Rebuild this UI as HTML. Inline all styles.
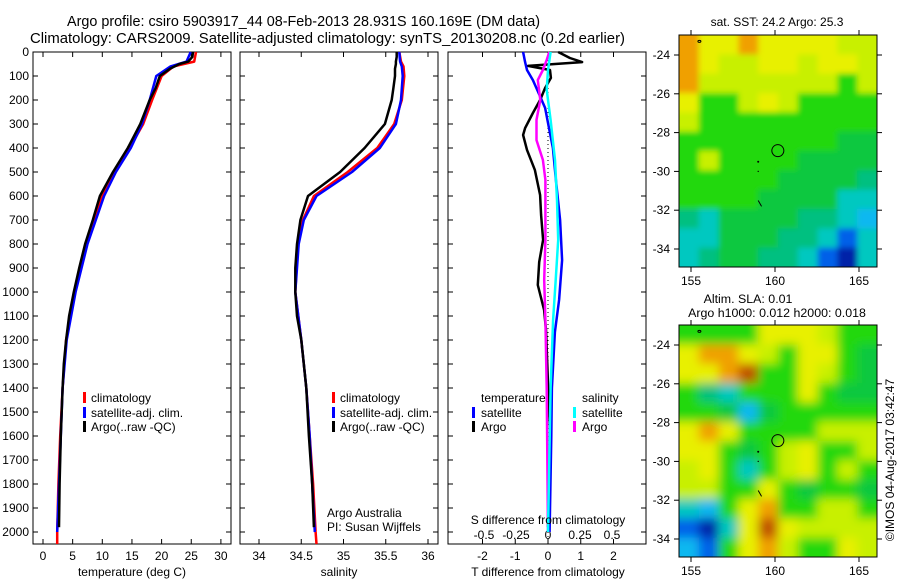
<!DOCTYPE html>
<html><head><meta charset="utf-8">
<style>
body{margin:0;background:#fff;}
svg{display:block;font-family:"Liberation Sans",sans-serif;}
text{font-size:12px;fill:#000;}
</style></head>
<body>
<svg id="root" width="900" height="580" viewBox="0 0 900 580" xmlns="http://www.w3.org/2000/svg">
<defs>
<filter id="blurA" x="-20%" y="-20%" width="140%" height="140%"><feGaussianBlur stdDeviation="5"/></filter>
<filter id="blurB" x="-20%" y="-20%" width="140%" height="140%"><feGaussianBlur stdDeviation="3"/></filter>
<clipPath id="clipMap1"><rect x="679" y="35" width="198" height="232"/></clipPath>
<clipPath id="clipMap2"><rect x="679" y="325" width="198" height="232"/></clipPath>
</defs>
<text x="67" y="26" textLength="473" lengthAdjust="spacingAndGlyphs" style="font-size:14.5px">Argo profile: csiro 5903917_44 08-Feb-2013 28.931S 160.169E (DM data)</text>
<text x="30" y="43" textLength="595" lengthAdjust="spacingAndGlyphs" style="font-size:14.5px">Climatology: CARS2009. Satellite-adjusted climatology: synTS_20130208.nc (0.2d earlier)</text>
<g id="g"></g>
</svg>
<script>
// ---------- data ----------
const depthTicks=[0,100,200,300,400,500,600,700,800,900,1000,1100,1200,1300,1400,1500,1600,1700,1800,1900,2000];
const tTicks=[0,5,10,15,20,25,30];
const sTicks=[34,34.5,35,35.5,36];
const sTickLabels=["34","34.5","35","35.5","36"];
const dTTicks=[-2,-1,0,1,2];
const dSTicks=[-0.5,-0.25,0,0.25,0.5];
const dSTickLabels=["-0.5","-0.25","0","0.25","0.5"];

const climDepth=[0,40,60,100,200,300,400,500,600,700,800,1000,1200,1400,1600,1800,2000,2050];
const climT=[25.8,25.5,22,20,18.4,16.9,14.6,12.2,10,8.6,7.2,5.3,3.9,3.3,2.9,2.6,2.4,2.4];
const climS=[35.66,35.68,35.71,35.72,35.69,35.6,35.4,35.05,34.65,34.52,34.46,34.43,34.5,34.56,34.6,34.64,34.67,34.68];
const satDepth=[0,40,60,100,200,300,400,500,600,700,800,1000,1200,1400,1600,1800,2000];
const satT=[24.9,24.2,21.5,19.1,18,16.7,14.8,12.3,10.3,8.9,7.5,5.5,4.0,3.3,3.0,2.7,2.4];
const satS=[35.66,35.67,35.69,35.7,35.68,35.62,35.43,35.1,34.68,34.53,34.47,34.43,34.5,34.56,34.6,34.63,34.66];
const argoDepth=[0,20,40,50,70,100,150,200,300,400,500,600,700,800,900,1000,1100,1200,1300,1400,1600,1800,1980];
const argoT=[25.3,25.2,24.5,23,21.4,19.7,19,18,16.4,14.3,11.8,9.6,8.4,7.1,6.1,5.2,4.4,3.9,3.5,3.3,3.0,2.8,2.7];
const argoS=[35.63,35.63,35.62,35.62,35.61,35.61,35.59,35.57,35.49,35.25,34.96,34.58,34.49,34.45,34.43,34.43,34.45,34.5,34.53,34.56,34.59,34.63,34.65];

const diffDepth=[0,25,42,58,75,108,150,200,254,317,346,408,492,596,679,783,875,971,1075,1158,1300,1500,1600,1800,1980];
const argoDT=[0.31,0.67,1.04,-0.61,0.06,0.09,-0.09,-0.24,-0.46,-0.70,-0.76,-0.64,-0.40,-0.24,-0.21,-0.15,-0.27,-0.31,-0.12,-0.06,-0.02,0.03,0.08,0.02,0];
const satDDepth=[0,42,75,117,167,233,317,400,533,700,867,1033,1167,1400,1600,2000];
const satDT=[-0.76,-0.70,-0.64,-0.46,-0.30,-0.09,0.03,0.15,0.24,0.37,0.43,0.34,0.21,0.12,0.10,0.05];
const argoDSDepth=[0,33,75,117,200,283,367,450,533,617,783,950,1117,1400,2000];
const argoDS=[0.01,-0.01,-0.04,-0.08,-0.06,-0.09,-0.09,-0.04,-0.02,-0.02,-0.02,-0.03,-0.02,-0.01,0];
const satDSDepth=[0,75,158,283,450,617,783,950,1117,1400,2000];
const satDS=[0.02,0,-0.01,0.02,0.055,0.07,0.08,0.06,0.04,0.02,0];

const mapLonTicks=[155,160,165];
const mapLatTicks=[-24,-26,-28,-30,-32,-34];
const sstGrid=[
[9,8,8,9,8,8,8,8,7,7],
[9,8,7,7,8,8,7,8,8,7],
[9,7,7,7,7,7,7,7,6,7],
[8,6,6,7,8,7,6,6,6,6],
[7,6,6,6,6,6,6,6,6,6],
[6,6,6,6,6,6,6,6,5,5],
[6,7,6,6,6,6,5,5,5,5],
[6,6,6,6,6,5,5,5,5,4],
[6,6,6,6,5,5,5,5,3,3],
[4,3,5,5,5,5,4,4,3,2],
[3,3,5,5,5,4,4,3,1,3],
[3,4,5,5,4,4,3,1,0,3]];
const slaGrid=[
[6,6,6,6,8,8,8,7,6,6],
[8,9,9,8,7,6,8,8,6,5],
[8,8,9,10,6,6,8,7,6,5],
[6,4,3,6,6,6,8,6,5,5],
[6,6,5,2,5,6,6,6,6,6],
[8,9,8,6,6,6,6,7,7,7],
[8,8,6,5,6,7,8,6,6,7],
[7,8,6,3,6,7,8,6,7,6],
[7,7,6,6,8,6,5,6,6,5],
[3,2,6,8,9,6,6,7,7,6],
[1,0,3,8,10,8,7,7,7,7],
[2,1,6,8,9,7,6,6,8,7]];
const palette=["#0020a8","#0060e8","#10b8f0","#00c8c0","#00c080","#10c840","#20d810","#c8f000","#e8f000","#f0a000","#c05000"];
const argoLon=160.169, argoLat=-28.931;

// ---------- helpers ----------
const NS="http://www.w3.org/2000/svg";
const G=document.getElementById('g');
function mk(tag,attrs,parent){const e=document.createElementNS(NS,tag);for(const k in attrs)e.setAttribute(k,attrs[k]);(parent||G).appendChild(e);return e;}
const yD=d=>52+d*0.24;
const xT=t=>43+t*5.93;
const xS=s=>259+(s-34)*84.5;
const xDT=v=>548+v*32.75;
const xDS=v=>548+v*128;
const panels=[[33,231],[240,438],[448,646]];

panels.forEach((p,i)=>{
  const r=mk('rect',{x:p[0],y:52,width:p[1]-p[0],height:492,fill:'none',stroke:'#000','stroke-width':1});
  
  
  depthTicks.forEach(d=>{
    mk('line',{x1:p[0],x2:p[0]+5,y1:yD(d),y2:yD(d),stroke:'#000'});
    mk('line',{x1:p[1]-5,x2:p[1],y1:yD(d),y2:yD(d),stroke:'#000'});
  });
});
depthTicks.forEach(d=>{
  const t=mk('text',{x:29,y:yD(d)+4,'text-anchor':'end'});t.textContent=d;
  
  
});
function xticks(vals,labels,fx,ly){
  vals.forEach((v,i)=>{
    const x=fx(v);
    mk('line',{x1:x,x2:x,y1:52,y2:57,stroke:'#000'});
    mk('line',{x1:x,x2:x,y1:539,y2:544,stroke:'#000'});
    if(labels){const t=mk('text',{x:x,y:ly,'text-anchor':'middle'});t.textContent=labels[i];
      
      }
  });
}
xticks(tTicks,tTicks.map(String),xT,560);
xticks(sTicks,sTickLabels,xS,560);
xticks(dTTicks,dTTicks.map(String),xDT,560);
dSTicks.forEach((v,i)=>{const t=mk('text',{x:xDS(v),y:539,'text-anchor':'middle'});t.textContent=dSTickLabels[i];
  
  });

function line(depths,vals,fx,color,name,w){
  const pts=depths.map((d,i)=>fx(vals[i]).toFixed(1)+','+yD(d).toFixed(1)).join(' ');
  const e=mk('polyline',{points:pts,fill:'none',stroke:color,'stroke-width':w||2.5,'stroke-linejoin':'round'});
  
  
}
line(climDepth,climT,xT,'#f00','temp-climatology-line');
line(satDepth,satT,xT,'#00f','temp-satellite-line');
line(argoDepth,argoT,xT,'#000','temp-argo-line');
line(climDepth,climS,xS,'#f00','sal-climatology-line');
line(satDepth,satS,xS,'#00f','sal-satellite-line');
line(argoDepth,argoS,xS,'#000','sal-argo-line');
const z=mk('line',{x1:548,x2:548,y1:52,y2:544,stroke:'#000','stroke-dasharray':'1,3'});

line(diffDepth,argoDT,xDT,'#000','t-diff-argo-line');
line(satDDepth,satDT,xDT,'#00f','t-diff-satellite-line');
line(argoDSDepth,argoDS,xDS,'#f0f','s-diff-argo-line');
line(satDSDepth,satDS,xDS,'#0ff','s-diff-satellite-line');

function txt(x,y,s,name,anchor,size){const t=mk('text',{x:x,y:y,'text-anchor':anchor||'start'});if(size)t.style.fontSize=size;t.textContent=s;
  return t;}
function mark(x,y,c){mk('rect',{x:x-1,y:y-10,width:3,height:11,fill:c});}
[[84,91],[333,340]].forEach((m,i)=>{
  mark(m[0],402,'#f00');txt(m[1],402,'climatology','legend-climatology');
  mark(m[0],417,'#00f');txt(m[1],417,'satellite-adj. clim.','legend-satellite');
  mark(m[0],431,'#000');txt(m[1],431,'Argo(..raw -QC)','legend-argo');
});
txt(481,402,'temperature','legend-temperature-header');
mark(473,417,'#00f');txt(481,417,'satellite','legend-t-satellite');
mark(473,431,'#000');txt(481,431,'Argo','legend-t-argo');
txt(582,402,'salinity','legend-salinity-header');
mark(574,417,'#0ff');txt(582,417,'satellite','legend-s-satellite');
mark(574,431,'#f0f');txt(582,431,'Argo','legend-s-argo');
txt(327,517,'Argo Australia','credit-line-1');
txt(327,531,'PI: Susan Wijffels','credit-line-2');
txt(548,524,'S difference from climatology','s-diff-axis-title','middle');
txt(132,576,'temperature (deg C)','temperature-axis-title','middle');
txt(339,576,'salinity','salinity-axis-title','middle');
txt(548,576,'T difference from climatology','t-diff-axis-title','middle');

// ---------- maps ----------
function map(y0,grid,clip,filt,name){
  const xL=lon=>691+(lon-155)*16.8;
  const yL=lat=>(y0+20)+(-24-lat)*19.4;
  const grp=mk('g',{'clip-path':'url(#'+clip+')'});
  
  
  const inner=mk('g',{filter:'url(#'+filt+')'},grp);
  const rows=grid.length,cols=grid[0].length;
  const cw=198/cols,ch=232/rows,pad=25;
  grid.forEach((row,r)=>row.forEach((v,c)=>{
    let x=679+c*cw,y=y0+r*ch,w=cw+0.5,h=ch+0.5;
    if(c===0){x-=pad;w+=pad;} if(c===cols-1){w+=pad;}
    if(r===0){y-=pad;h+=pad;} if(r===rows-1){h+=pad;}
    mk('rect',{x:x,y:y,width:w,height:h,fill:palette[v]},inner);
  }));
  mk('rect',{x:679,y:y0,width:198,height:232,fill:'none',stroke:'#000'});
  mapLonTicks.forEach(l=>{const x=xL(l);
    mk('line',{x1:x,x2:x,y1:y0-5,y2:y0,stroke:'#000'});
    mk('line',{x1:x,x2:x,y1:y0+232,y2:y0+237,stroke:'#000'});
    txt(x,y0+250,String(l),'map-lon-tick-label','middle');});
  mapLatTicks.forEach(l=>{const y=yL(l);
    mk('line',{x1:674,x2:679,y1:y,y2:y,stroke:'#000'});
    mk('line',{x1:877,x2:882,y1:y,y2:y,stroke:'#000'});
    txt(670,y+4,String(l),'map-lat-tick-label','end');});
  const c=mk('circle',{cx:xL(argoLon),cy:yL(argoLat),r:6,fill:'none',stroke:'#000'});
  
  
  mk('ellipse',{cx:xL(155.5),cy:yL(-23.3),rx:1.5,ry:1,fill:'none',stroke:'#000'});
  mk('circle',{cx:xL(159),cy:yL(-29.5),r:1,fill:'#000'});
  mk('circle',{cx:xL(159),cy:yL(-30),r:0.7,fill:'#000'});
  mk('line',{x1:xL(159),y1:yL(-31.5),x2:xL(159.2),y2:yL(-31.8),stroke:'#000'});
}
map(35,sstGrid,'clipMap1','blurB','sst-map');
map(325,slaGrid,'clipMap2','blurA','sla-map');
txt(777,26,'sat. SST: 24.2 Argo: 25.3','sst-map-title','middle');
txt(748,303,'Altim. SLA: 0.01','sla-map-title-1','middle',12.4);
txt(777,317,'Argo h1000: 0.012 h2000: 0.018','sla-map-title-2','middle',12.4);
const v=txt(0,0,'©IMOS 04-Aug-2017 03:42:47','timestamp','middle');
v.setAttribute('transform','translate(894,460) rotate(-90)');
</script>
</body></html>
